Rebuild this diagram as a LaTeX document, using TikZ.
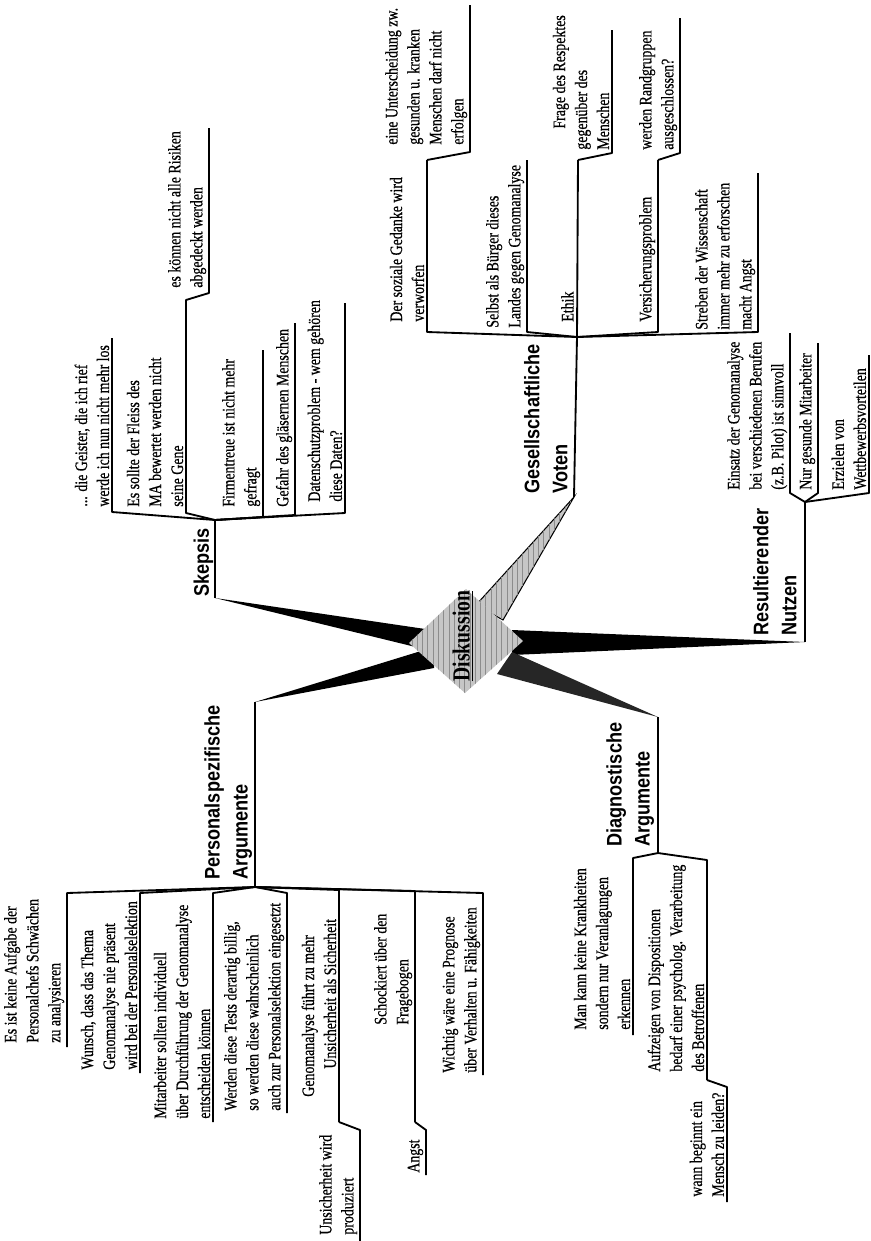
\documentclass[tikz,border=0pt]{standalone}
\usepackage{fontspec}
\usetikzlibrary{patterns}
\newfontfamily\bodyfont{Liberation Serif}[FakeStretch=0.79,FakeBold=0.6]
\newfontfamily\headfont{Liberation Sans}[FakeStretch=0.86]
\newfontfamily\diskfont{Liberation Serif}[FakeStretch=0.8]
\begin{document}
\begin{tikzpicture}[x=0.02cm,y=-0.02cm,
  ln/.style={line width=1.05pt,line join=round},
  txt/.style={rotate=90,anchor=south west,align=left,inner sep=0pt,font=\bodyfont\fontsize{10}{12.5}\selectfont},
  head/.style={rotate=90,anchor=south west,align=left,inner sep=0pt,font=\headfont\bfseries\fontsize{12}{16}\selectfont},
  wedge/.style={fill=black},
  graywedge/.style={fill=gray!45,postaction={pattern=vertical lines,pattern color=gray!90},draw=black,line width=0.6pt}
]
\useasboundingbox (0,0) rectangle (871,1241);

% ---------- main coordinates ----------
\coordinate (sk0) at (215,598);
\coordinate (skj) at (215,520);
\coordinate (gv0) at (574,497);
\coordinate (gvj) at (577,337);
\coordinate (rn0) at (805,642);
\coordinate (rnj) at (805,502);
\coordinate (ps0) at (255,702);
\coordinate (psj) at (255,887);
\coordinate (da0) at (658,717);
\coordinate (daj) at (658,853);

% ---------- wedges ----------
\fill[wedge] (sk0) -- (432,630) -- (432,651) -- cycle;
\fill[wedge] (ps0) -- (434,647) -- (434,668) -- cycle;
\fill[wedge] (rn0) -- (512,630) -- (512,655) -- cycle;
\fill[black!85] (da0) -- (512,652) -- (497,674) -- cycle;
\path[graywedge] (gv0) -- (476,605) -- (503,620) -- cycle;

% ---------- central diamond ----------
\path[fill=gray!45,postaction={pattern=vertical lines,pattern color=gray!90}]
  (409,643) -- (466,589) -- (523,641) -- (465,693) -- cycle;
\node[rotate=90,inner sep=0pt,font=\diskfont\bfseries\fontsize{14}{16}\selectfont] (disk) at (463,636) {\underline{Diskussion}};

% ---------- Skepsis ----------
\draw[ln] (sk0) -- (skj);
\node[head] (skh) at (213.5,597) {Skepsis};
\coordinate (g1b) at (112,512); \coordinate (g1t) at (112,338);
\draw[ln] (skj) -- (g1b) -- (g1t);
\node[txt] (g1) at (109.5,507) {... die Geister, die ich rief\\werde ich nun nicht mehr los};
\node[txt] (g2) at (183.5,507) {Es sollte der Fleiss des\\MA bewertet werden nicht\\seine Gene};
\coordinate (g3a) at (186,513); \coordinate (g3b) at (186,300);
\coordinate (g3c) at (209,293); \coordinate (g3t) at (209,128);
\draw[ln] (skj) -- (g3a) -- (g3b) -- (g3c) -- (g3t);
\node[txt] (g3) at (206.5,288) {es können nicht alle Risiken\\abgedeckt werden};
\coordinate (g4b) at (263,517); \coordinate (g4t) at (263,350);
\draw[ln] (skj) -- (g4b) -- (g4t);
\node[txt] (g4) at (260.5,507) {Firmentreue ist nicht mehr\\gefragt};
\coordinate (g5b) at (295,515); \coordinate (g5t) at (295,323);
\draw[ln] (skj) -- (g5b) -- (g5t);
\node[txt] (g5) at (292.5,507) {Gefahr des gläsernen Menschen};
\coordinate (g6b) at (345,513); \coordinate (g6t) at (345,303);
\draw[ln] (skj) -- (g6b) -- (g6t);
\node[txt] (g6) at (342.5,502) {Datenschutzproblem - wem gehören\\diese Daten?};

% ---------- Gesellschaftliche Voten ----------
\draw[ln] (gv0) -- (gvj);
\node[head] (gvh) at (568,494) {Gesellschaftliche\\Voten};
\coordinate (s1b) at (427,332); \coordinate (s1t) at (427,160);
\draw[ln] (gvj) -- (s1b) -- (s1t);
\node[txt] (s1) at (424.5,322) {Der soziale Gedanke wird\\verworfen};
\coordinate (s2a) at (470,152); \coordinate (s2t) at (470,5);
\draw[ln] (s1t) -- (s2a) -- (s2t);
\node[txt] (s2) at (467.5,145) {eine Unterscheidung zw.\\gesunden u. kranken\\Menschen darf nicht\\erfolgen};
\coordinate (s3b) at (527,332); \coordinate (s3t) at (527,160);
\draw[ln] (gvj) -- (s3b) -- (s3t);
\node[txt] (s3) at (524.5,328) {Selbst als Bürger dieses\\Landes gegen Genomanalyse};
\coordinate (s4t) at (578,160);
\draw[ln] (gvj) -- (s4t);
\node[txt] (s4) at (574,322) {Ethik};
\coordinate (s5a) at (612,153); \coordinate (s5t) at (612,30);
\draw[ln] (s4t) -- (s5a) -- (s5t);
\node[txt] (s5) at (609.5,150) {\hspace*{12pt}Frage des Respektes\\gegenüber des\\Menschen};
\coordinate (s6b) at (658,332); \coordinate (s6t) at (658,160);
\draw[ln] (gvj) -- (s6b) -- (s6t);
\node[txt] (s6) at (655.5,322) {Versicherungsproblem};
\coordinate (s7a) at (680,153); \coordinate (s7t) at (680,18);
\draw[ln] (s6t) -- (s7a) -- (s7t);
\node[txt] (s7) at (677.5,150) {werden Randgruppen\\ausgeschlossen?};
\coordinate (s8b) at (758,332); \coordinate (s8t) at (758,173);
\draw[ln] (gvj) -- (s8b) -- (s8t);
\node[txt] (s8) at (755.5,330) {Streben der Wissenschaft\\immer mehr zu erforschen\\macht Angst};

% ---------- Resultierender Nutzen ----------
\draw[ln] (rn0) -- (rnj);
\node[head] (rnh) at (797,636) {Resultierender\\Nutzen};
\coordinate (r1b) at (790,493); \coordinate (r1t) at (790,333);
\draw[ln] (rnj) -- (r1b) -- (r1t);
\node[txt] (r1) at (787.5,490) {Einsatz der Genomanalyse\\bei verschiedenen Berufen\\(z.B. Pilot) ist sinnvoll};
\coordinate (r2b) at (818,493); \coordinate (r2t) at (818,343);
\draw[ln] (rnj) -- (r2b) -- (r2t);
\node[txt] (r2) at (815.5,490) {Nur gesunde Mitarbeiter};
\coordinate (r3b) at (869,493); \coordinate (r3t) at (869,355);
\draw[ln] (rnj) -- (r3b) -- (r3t);
\node[txt] (r3) at (866.5,490) {Erzielen von\\Wettbewerbsvorteilen};

% ---------- Personalspezifische Argumente ----------
\draw[ln] (ps0) -- (psj);
\node[head] (psh) at (252.5,880) {Personalspezifische\\Argumente};
\coordinate (p1a) at (67,893); \coordinate (p1e) at (67,1047);
\draw[ln] (psj) -- (p1a) -- (p1e);
\node[txt] (p1) at (64.5,1043) {Es ist keine Aufgabe der\\Personalchefs Schwächen\\zu analysieren};
\coordinate (p2a) at (140,893); \coordinate (p2e) at (140,1073);
\draw[ln] (psj) -- (p2a) -- (p2e);
\node[txt] (p2) at (137.5,1070) {Wunsch, dass das Thema\\Genomanalyse nie präsent\\wird bei der Personalselektion};
\coordinate (p3a) at (213,893); \coordinate (p3e) at (213,1122);
\draw[ln] (psj) -- (p3a) -- (p3e);
\node[txt] (p3) at (210.5,1119) {Mitarbeiter sollten individuell\\über Durchführung der Genomanalyse\\entscheiden können};
\coordinate (p4a) at (287,893); \coordinate (p4e) at (287,1113);
\draw[ln] (psj) -- (p4a) -- (p4e);
\node[txt] (p4) at (284.5,1111) {Werden diese Tests derartig billig,\\so werden diese wahrscheinlich\\auch zur Personalselektion eingesetzt};
\coordinate (p5a) at (339,890); \coordinate (p5e) at (339,1122);
\draw[ln] (psj) -- (p5a) -- (p5e);
\node[txt] (p5) at (336.5,1097) {Genomanalyse führt zu mehr\\\hspace*{16pt}Unsicherheit als Sicherheit};
\coordinate (p6a) at (360,1130); \coordinate (p6e) at (360,1241);
\draw[ln] (p5e) -- (p6a) -- (p6e);
\node[txt] (p6) at (357.5,1235) {Unsicherheit wird\\produziert};
\coordinate (p7a) at (415,891); \coordinate (p7e) at (415,1122);
\draw[ln] (psj) -- (p7a) -- (p7e);
\node[txt] (p7) at (412.5,1025) {Schockiert über den\\Fragebogen};
\coordinate (p8a) at (426,1130); \coordinate (p8e) at (426,1175);
\draw[ln] (p7e) -- (p8a) -- (p8e);
\node[txt] (p8) at (423.5,1173) {Angst};
\coordinate (p9a) at (483,893); \coordinate (p9e) at (483,1075);
\draw[ln] (psj) -- (p9a) -- (p9e);
\node[txt] (p9) at (480.5,1073) {Wichtig wäre eine Prognose\\über Verhalten u. Fähigkeiten};

% ---------- Diagnostische Argumente ----------
\draw[ln] (da0) -- (daj);
\node[head] (dah) at (654.5,847) {Diagnostische\\Argumente};
\coordinate (d1a) at (633,858); \coordinate (d1e) at (633,1035);
\draw[ln] (daj) -- (d1a) -- (d1e);
\node[txt] (d1) at (630.5,1030) {Man kann keine Krankheiten\\sondern nur Veranlagungen\\erkennen};
\coordinate (d2a) at (707,860); \coordinate (d2e) at (707,1080);
\draw[ln] (daj) -- (d2a) -- (d2e);
\node[txt] (d2) at (704.5,1072) {Aufzeigen von Dispositionen\\bedarf einer psycholog. Verarbeitung\\des Betroffenen};
\coordinate (d3a) at (727,1087); \coordinate (d3e) at (727,1202);
\draw[ln] (d2e) -- (d3a) -- (d3e);
\node[txt] (d3) at (724.5,1197) {wann beginnt ein\\Mensch zu leiden?};
\end{tikzpicture}
\end{document}
